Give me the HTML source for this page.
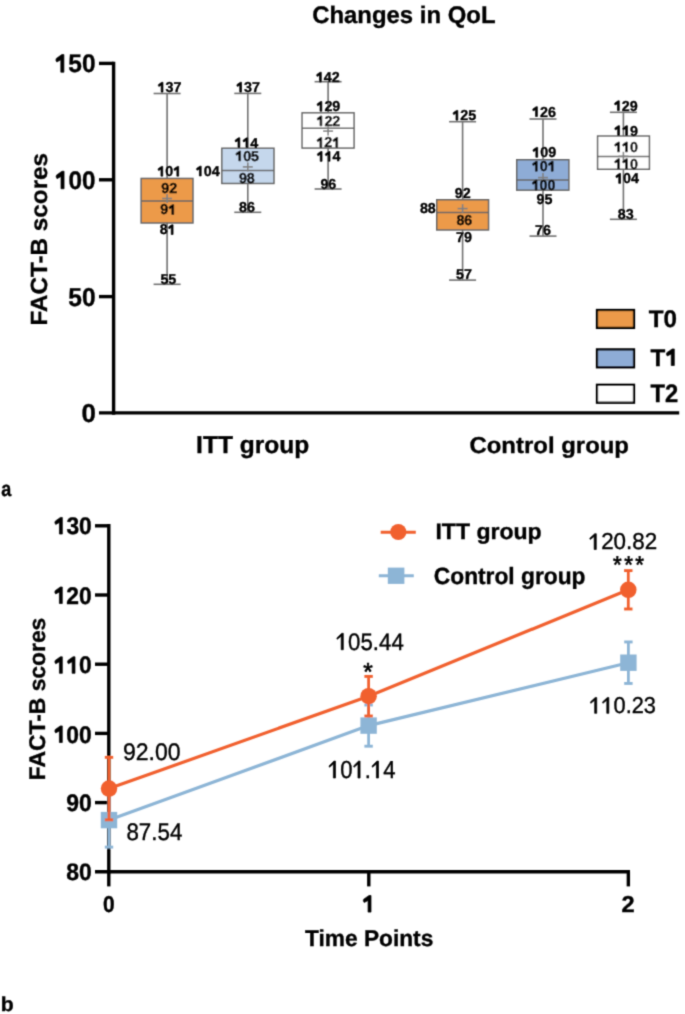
<!DOCTYPE html>
<html><head><meta charset="utf-8"><style>
html,body{margin:0;padding:0;background:#fff;}
body{width:685px;height:1014px;overflow:hidden;}
svg{display:block;font-family:"Liberation Sans",sans-serif;text-rendering:geometricPrecision;}
text{stroke:#000;stroke-width:0.35px;} path.one{stroke:#000;stroke-width:0.7px;vector-effect:non-scaling-stroke;}
</style></head><body>
<svg width="685" height="1014" viewBox="0 0 685 1014">
<rect width="685" height="1014" fill="#fff"/>
<defs><filter id="fb" x="0" y="0" width="685" height="1014" filterUnits="userSpaceOnUse"><feConvolveMatrix order="3" kernelMatrix="0.0277 0.111 0.0277 0.111 0.445 0.111 0.0277 0.111 0.0277" edgeMode="duplicate"/></filter></defs><g id="g" filter="url(#fb)">
<text transform="translate(312.166 22.625) scale(0.9963 0.9990)" font-size="24.00" font-weight="bold">Changes in QoL</text>
<line x1="113.60" y1="61.70" x2="113.60" y2="414.70" stroke="#000" stroke-width="3.40"/>
<line x1="99.00" y1="412.90" x2="679.20" y2="412.90" stroke="#000" stroke-width="3.40"/>
<line x1="99.00" y1="63.40" x2="113.60" y2="63.40" stroke="#000" stroke-width="3.40"/>
<line x1="99.00" y1="179.80" x2="113.60" y2="179.80" stroke="#000" stroke-width="3.40"/>
<line x1="99.00" y1="296.60" x2="113.60" y2="296.60" stroke="#000" stroke-width="3.40"/>
<g transform="translate(54.658 72.207) scale(0.9999 1.0457)"><text font-size="24.50" font-weight="bold"> 50</text><path class="one" d="M514 0L514 987L179 815L101 962L140 1099L600 1409L773 1409L773 0Z" transform="translate(0.000 0) scale(0.01196 -0.01196)"/></g>
<g transform="translate(54.908 188.781) scale(0.9906 1.0402)"><text font-size="24.50" font-weight="bold"> 00</text><path class="one" d="M514 0L514 987L179 815L101 962L140 1099L600 1409L773 1409L773 0Z" transform="translate(0.000 0) scale(0.01196 -0.01196)"/></g>
<text transform="translate(68.221 305.851) scale(1.0025 1.0588)" font-size="24.50" font-weight="bold">50</text>
<text transform="translate(81.616 422.245) scale(1.0569 1.0570)" font-size="24.50" font-weight="bold">0</text>
<text transform="translate(47.448 325.414) rotate(-90) scale(1.0102 0.9728)" font-size="24.00" font-weight="bold">FACT-B scores</text>
<text transform="translate(196.124 452.583) scale(1.0214 1.0164)" font-size="24.00" font-weight="bold">ITT group</text>
<text transform="translate(469.462 452.501) scale(0.9973 0.9559)" font-size="24.00" font-weight="bold">Control group</text>
<rect x="597.00" y="310.00" width="37.00" height="17.90" fill="#EC9A48" stroke="#000" stroke-width="2.30"/>
<rect x="597.00" y="349.40" width="37.00" height="17.90" fill="#8EACD6" stroke="#000" stroke-width="2.30"/>
<rect x="597.00" y="384.80" width="37.00" height="17.90" fill="#fff" stroke="#000" stroke-width="2.30"/>
<text transform="translate(648.799 326.922) scale(1.0084 1.0034)" font-size="24.00" font-weight="bold">T0</text>
<g transform="translate(650.430 365.512) scale(1.0064 1.0000)"><text font-size="24.00" font-weight="bold">T </text><path class="one" d="M514 0L514 987L179 815L101 962L140 1099L600 1409L773 1409L773 0Z" transform="translate(14.660 0) scale(0.01172 -0.01172)"/></g>
<text transform="translate(650.449 401.660) scale(0.9888 1.0538)" font-size="24.00" font-weight="bold">T2</text>
<text transform="translate(1.220 496.082) scale(0.9006 1.0492)" font-size="20.00" font-weight="bold">a</text>
<line x1="167.10" y1="93.50" x2="167.10" y2="284.30" stroke="#727272" stroke-width="1.60"/>
<line x1="153.60" y1="93.50" x2="180.60" y2="93.50" stroke="#727272" stroke-width="1.60"/>
<line x1="153.60" y1="284.30" x2="180.60" y2="284.30" stroke="#727272" stroke-width="1.60"/>
<rect x="141.15" y="178.45" width="51.80" height="44.50" fill="#EC9A48" stroke="#666666" stroke-width="1.50"/>
<line x1="141.15" y1="200.90" x2="192.95" y2="200.90" stroke="#666666" stroke-width="1.50"/>
<line x1="162.10" y1="198.50" x2="172.10" y2="198.50" stroke="#808080" stroke-width="1.60"/>
<line x1="167.10" y1="194.00" x2="167.10" y2="203.00" stroke="#808080" stroke-width="1.60"/>
<line x1="247.80" y1="93.40" x2="247.80" y2="212.30" stroke="#727272" stroke-width="1.60"/>
<line x1="234.30" y1="93.40" x2="261.30" y2="93.40" stroke="#727272" stroke-width="1.60"/>
<line x1="234.30" y1="212.30" x2="261.30" y2="212.30" stroke="#727272" stroke-width="1.60"/>
<rect x="221.85" y="148.25" width="52.10" height="35.20" fill="#C5D7EC" stroke="#666666" stroke-width="1.50"/>
<line x1="221.85" y1="170.40" x2="273.95" y2="170.40" stroke="#666666" stroke-width="1.50"/>
<line x1="242.80" y1="166.90" x2="252.80" y2="166.90" stroke="#808080" stroke-width="1.60"/>
<line x1="247.80" y1="162.40" x2="247.80" y2="171.40" stroke="#808080" stroke-width="1.60"/>
<line x1="328.10" y1="81.70" x2="328.10" y2="189.00" stroke="#727272" stroke-width="1.60"/>
<line x1="314.60" y1="81.70" x2="341.60" y2="81.70" stroke="#727272" stroke-width="1.60"/>
<line x1="314.60" y1="189.00" x2="341.60" y2="189.00" stroke="#727272" stroke-width="1.60"/>
<rect x="302.10" y="112.85" width="51.95" height="35.20" fill="#fff" stroke="#666666" stroke-width="1.50"/>
<line x1="302.10" y1="128.30" x2="354.05" y2="128.30" stroke="#666666" stroke-width="1.50"/>
<line x1="323.10" y1="131.10" x2="333.10" y2="131.10" stroke="#808080" stroke-width="1.60"/>
<line x1="328.10" y1="126.60" x2="328.10" y2="135.60" stroke="#808080" stroke-width="1.60"/>
<line x1="462.60" y1="121.70" x2="462.60" y2="280.10" stroke="#727272" stroke-width="1.60"/>
<line x1="449.10" y1="121.70" x2="476.10" y2="121.70" stroke="#727272" stroke-width="1.60"/>
<line x1="449.10" y1="280.10" x2="476.10" y2="280.10" stroke="#727272" stroke-width="1.60"/>
<rect x="436.75" y="199.75" width="51.80" height="30.20" fill="#EC9A48" stroke="#666666" stroke-width="1.50"/>
<line x1="436.75" y1="212.60" x2="488.55" y2="212.60" stroke="#666666" stroke-width="1.50"/>
<line x1="457.60" y1="208.60" x2="467.60" y2="208.60" stroke="#808080" stroke-width="1.60"/>
<line x1="462.60" y1="204.10" x2="462.60" y2="213.10" stroke="#808080" stroke-width="1.60"/>
<line x1="543.00" y1="119.00" x2="543.00" y2="236.10" stroke="#727272" stroke-width="1.60"/>
<line x1="529.50" y1="119.00" x2="556.50" y2="119.00" stroke="#727272" stroke-width="1.60"/>
<line x1="529.50" y1="236.10" x2="556.50" y2="236.10" stroke="#727272" stroke-width="1.60"/>
<rect x="516.75" y="159.75" width="52.10" height="30.40" fill="#8EACD6" stroke="#666666" stroke-width="1.50"/>
<line x1="516.75" y1="179.90" x2="568.85" y2="179.90" stroke="#666666" stroke-width="1.50"/>
<line x1="538.00" y1="177.60" x2="548.00" y2="177.60" stroke="#808080" stroke-width="1.60"/>
<line x1="543.00" y1="173.10" x2="543.00" y2="182.10" stroke="#808080" stroke-width="1.60"/>
<line x1="623.40" y1="112.30" x2="623.40" y2="219.30" stroke="#727272" stroke-width="1.60"/>
<line x1="609.90" y1="112.30" x2="636.90" y2="112.30" stroke="#727272" stroke-width="1.60"/>
<line x1="609.90" y1="219.30" x2="636.90" y2="219.30" stroke="#727272" stroke-width="1.60"/>
<rect x="597.60" y="136.05" width="51.80" height="33.20" fill="#fff" stroke="#666666" stroke-width="1.50"/>
<line x1="597.60" y1="156.60" x2="649.40" y2="156.60" stroke="#666666" stroke-width="1.50"/>
<line x1="618.40" y1="156.30" x2="628.40" y2="156.30" stroke="#808080" stroke-width="1.60"/>
<line x1="623.40" y1="151.80" x2="623.40" y2="160.80" stroke="#808080" stroke-width="1.60"/>
<g transform="translate(157.584 92.139) scale(1.0000 1.0000)"><text font-size="14.30" font-weight="bold"> 37</text><path class="one" d="M514 0L514 987L179 815L101 962L140 1099L600 1409L773 1409L773 0Z" transform="translate(0.000 0) scale(0.00698 -0.00698)"/></g>
<g transform="translate(157.369 176.260) scale(1.0000 1.0000)"><text font-size="14.30" font-weight="bold"> 0 </text><path class="one" d="M514 0L514 987L179 815L101 962L140 1099L600 1409L773 1409L773 0Z" transform="translate(0.000 0) scale(0.00698 -0.00698)"/><path class="one" d="M514 0L514 987L179 815L101 962L140 1099L600 1409L773 1409L773 0Z" transform="translate(15.906 0) scale(0.00698 -0.00698)"/></g>
<text transform="translate(161.235 192.660) scale(1.0000 1.0000)" font-size="14.30" font-weight="bold">92</text>
<g transform="translate(160.348 214.460) scale(1.0000 1.0000)"><text font-size="14.30" font-weight="bold">9 </text><path class="one" d="M514 0L514 987L179 815L101 962L140 1099L600 1409L773 1409L773 0Z" transform="translate(7.953 0) scale(0.00698 -0.00698)"/></g>
<g transform="translate(159.719 234.460) scale(1.0000 1.0000)"><text font-size="14.30" font-weight="bold">8 </text><path class="one" d="M514 0L514 987L179 815L101 962L140 1099L600 1409L773 1409L773 0Z" transform="translate(7.953 0) scale(0.00698 -0.00698)"/></g>
<text transform="translate(160.376 283.760) scale(1.0000 1.0000)" font-size="14.30" font-weight="bold">55</text>
<g transform="translate(236.134 92.139) scale(1.0000 1.0000)"><text font-size="14.30" font-weight="bold"> 37</text><path class="one" d="M514 0L514 987L179 815L101 962L140 1099L600 1409L773 1409L773 0Z" transform="translate(0.000 0) scale(0.00698 -0.00698)"/></g>
<g transform="translate(234.409 147.638) scale(1.0000 1.0000)"><text font-size="14.30" font-weight="bold">  4</text><path class="one" d="M514 0L514 987L179 815L101 962L140 1099L600 1409L773 1409L773 0Z" transform="translate(0.000 0) scale(0.00698 -0.00698)"/><path class="one" d="M514 0L514 987L179 815L101 962L140 1099L600 1409L773 1409L773 0Z" transform="translate(7.953 0) scale(0.00698 -0.00698)"/></g>
<g transform="translate(235.219 160.860) scale(1.0000 1.0000)"><text font-size="14.30" font-weight="bold"> 05</text><path class="one" d="M514 0L514 987L179 815L101 962L140 1099L600 1409L773 1409L773 0Z" transform="translate(0.000 0) scale(0.00698 -0.00698)"/></g>
<g transform="translate(195.809 175.960) scale(1.0000 1.0000)"><text font-size="14.30" font-weight="bold"> 04</text><path class="one" d="M514 0L514 987L179 815L101 962L140 1099L600 1409L773 1409L773 0Z" transform="translate(0.000 0) scale(0.00698 -0.00698)"/></g>
<text transform="translate(238.919 182.560) scale(1.0000 1.0000)" font-size="14.30" font-weight="bold">98</text>
<text transform="translate(238.978 211.860) scale(1.0000 1.0000)" font-size="14.30" font-weight="bold">86</text>
<g transform="translate(315.906 82.085) scale(1.0000 1.0000)"><text font-size="14.30" font-weight="bold"> 42</text><path class="one" d="M514 0L514 987L179 815L101 962L140 1099L600 1409L773 1409L773 0Z" transform="translate(0.000 0) scale(0.00698 -0.00698)"/></g>
<g transform="translate(316.435 111.360) scale(1.0000 1.0000)"><text font-size="14.30" font-weight="bold"> 29</text><path class="one" d="M514 0L514 987L179 815L101 962L140 1099L600 1409L773 1409L773 0Z" transform="translate(0.000 0) scale(0.00698 -0.00698)"/></g>
<g transform="translate(316.456 125.785) scale(1.0000 1.0000)"><text font-size="14.30" font-weight="bold"> 22</text><path class="one" d="M514 0L514 987L179 815L101 962L140 1099L600 1409L773 1409L773 0Z" transform="translate(0.000 0) scale(0.00698 -0.00698)"/></g>
<g transform="translate(316.369 147.285) scale(1.0000 1.0000)"><text font-size="14.30" font-weight="bold"> 2 </text><path class="one" d="M514 0L514 987L179 815L101 962L140 1099L600 1409L773 1409L773 0Z" transform="translate(0.000 0) scale(0.00698 -0.00698)"/><path class="one" d="M514 0L514 987L179 815L101 962L140 1099L600 1409L773 1409L773 0Z" transform="translate(15.906 0) scale(0.00698 -0.00698)"/></g>
<g transform="translate(316.659 161.338) scale(1.0000 1.0000)"><text font-size="14.30" font-weight="bold">  4</text><path class="one" d="M514 0L514 987L179 815L101 962L140 1099L600 1409L773 1409L773 0Z" transform="translate(0.000 0) scale(0.00698 -0.00698)"/><path class="one" d="M514 0L514 987L179 815L101 962L140 1099L600 1409L773 1409L773 0Z" transform="translate(7.953 0) scale(0.00698 -0.00698)"/></g>
<text transform="translate(320.407 188.860) scale(1.0000 1.0000)" font-size="14.30" font-weight="bold">96</text>
<g transform="translate(452.419 120.260) scale(1.0000 1.0000)"><text font-size="14.30" font-weight="bold"> 25</text><path class="one" d="M514 0L514 987L179 815L101 962L140 1099L600 1409L773 1409L773 0Z" transform="translate(0.000 0) scale(0.00698 -0.00698)"/></g>
<text transform="translate(454.785 197.560) scale(1.0000 1.0000)" font-size="14.30" font-weight="bold">92</text>
<text transform="translate(419.890 212.960) scale(1.0000 1.0000)" font-size="14.30" font-weight="bold">88</text>
<text transform="translate(456.378 224.560) scale(1.0000 1.0000)" font-size="14.30" font-weight="bold">86</text>
<text transform="translate(456.005 241.860) scale(1.0000 1.0000)" font-size="14.30" font-weight="bold">79</text>
<text transform="translate(455.941 278.660) scale(1.0000 1.0000)" font-size="14.30" font-weight="bold">57</text>
<g transform="translate(531.979 116.560) scale(1.0000 1.0000)"><text font-size="14.30" font-weight="bold"> 26</text><path class="one" d="M514 0L514 987L179 815L101 962L140 1099L600 1409L773 1409L773 0Z" transform="translate(0.000 0) scale(0.00698 -0.00698)"/></g>
<g transform="translate(532.285 157.260) scale(1.0000 1.0000)"><text font-size="14.30" font-weight="bold"> 09</text><path class="one" d="M514 0L514 987L179 815L101 962L140 1099L600 1409L773 1409L773 0Z" transform="translate(0.000 0) scale(0.00698 -0.00698)"/></g>
<g transform="translate(531.819 171.160) scale(1.0000 1.0000)"><text font-size="14.30" font-weight="bold"> 0 </text><path class="one" d="M514 0L514 987L179 815L101 962L140 1099L600 1409L773 1409L773 0Z" transform="translate(0.000 0) scale(0.00698 -0.00698)"/><path class="one" d="M514 0L514 987L179 815L101 962L140 1099L600 1409L773 1409L773 0Z" transform="translate(15.906 0) scale(0.00698 -0.00698)"/></g>
<g transform="translate(531.613 189.960) scale(1.0000 1.0000)"><text font-size="14.30" font-weight="bold"> 00</text><path class="one" d="M514 0L514 987L179 815L101 962L140 1099L600 1409L773 1409L773 0Z" transform="translate(0.000 0) scale(0.00698 -0.00698)"/></g>
<text transform="translate(536.498 203.960) scale(1.0000 1.0000)" font-size="14.30" font-weight="bold">95</text>
<text transform="translate(534.948 235.260) scale(1.0000 1.0000)" font-size="14.30" font-weight="bold">76</text>
<g transform="translate(613.885 110.660) scale(1.0000 1.0000)"><text font-size="14.30" font-weight="bold"> 29</text><path class="one" d="M514 0L514 987L179 815L101 962L140 1099L600 1409L773 1409L773 0Z" transform="translate(0.000 0) scale(0.00698 -0.00698)"/></g>
<g transform="translate(614.085 135.560) scale(1.0000 1.0000)"><text font-size="14.30" font-weight="bold">  9</text><path class="one" d="M514 0L514 987L179 815L101 962L140 1099L600 1409L773 1409L773 0Z" transform="translate(0.000 0) scale(0.00698 -0.00698)"/><path class="one" d="M514 0L514 987L179 815L101 962L140 1099L600 1409L773 1409L773 0Z" transform="translate(7.953 0) scale(0.00698 -0.00698)"/></g>
<g transform="translate(614.013 151.860) scale(1.0000 1.0000)"><text font-size="14.30" font-weight="bold">  0</text><path class="one" d="M514 0L514 987L179 815L101 962L140 1099L600 1409L773 1409L773 0Z" transform="translate(0.000 0) scale(0.00698 -0.00698)"/><path class="one" d="M514 0L514 987L179 815L101 962L140 1099L600 1409L773 1409L773 0Z" transform="translate(7.953 0) scale(0.00698 -0.00698)"/></g>
<g transform="translate(614.013 168.660) scale(1.0000 1.0000)"><text font-size="14.30" font-weight="bold">  0</text><path class="one" d="M514 0L514 987L179 815L101 962L140 1099L600 1409L773 1409L773 0Z" transform="translate(0.000 0) scale(0.00698 -0.00698)"/><path class="one" d="M514 0L514 987L179 815L101 962L140 1099L600 1409L773 1409L773 0Z" transform="translate(7.953 0) scale(0.00698 -0.00698)"/></g>
<g transform="translate(615.159 183.360) scale(1.0000 1.0000)"><text font-size="14.30" font-weight="bold"> 04</text><path class="one" d="M514 0L514 987L179 815L101 962L140 1099L600 1409L773 1409L773 0Z" transform="translate(0.000 0) scale(0.00698 -0.00698)"/></g>
<text transform="translate(617.728 218.839) scale(1.0000 1.0000)" font-size="14.30" font-weight="bold">83</text>
<line x1="108.80" y1="524.10" x2="108.80" y2="873.50" stroke="#000" stroke-width="3.40"/>
<line x1="95.00" y1="871.80" x2="630.00" y2="871.80" stroke="#000" stroke-width="3.40"/>
<line x1="95.00" y1="525.80" x2="108.80" y2="525.80" stroke="#000" stroke-width="3.40"/>
<line x1="95.00" y1="595.00" x2="108.80" y2="595.00" stroke="#000" stroke-width="3.40"/>
<line x1="95.00" y1="664.20" x2="108.80" y2="664.20" stroke="#000" stroke-width="3.40"/>
<line x1="95.00" y1="733.40" x2="108.80" y2="733.40" stroke="#000" stroke-width="3.40"/>
<line x1="95.00" y1="802.60" x2="108.80" y2="802.60" stroke="#000" stroke-width="3.40"/>
<line x1="108.80" y1="871.80" x2="108.80" y2="886.40" stroke="#000" stroke-width="3.40"/>
<line x1="368.80" y1="871.80" x2="368.80" y2="886.40" stroke="#000" stroke-width="3.40"/>
<line x1="628.35" y1="871.80" x2="628.35" y2="886.40" stroke="#000" stroke-width="3.40"/>
<g transform="translate(53.716 534.062) scale(1.0284 1.0856)"><text font-size="22.20" font-weight="bold"> 30</text><path class="one" d="M514 0L514 987L179 815L101 962L140 1099L600 1409L773 1409L773 0Z" transform="translate(0.000 0) scale(0.01084 -0.01084)"/></g>
<g transform="translate(53.666 603.520) scale(1.0293 1.0810)"><text font-size="22.20" font-weight="bold"> 20</text><path class="one" d="M514 0L514 987L179 815L101 962L140 1099L600 1409L773 1409L773 0Z" transform="translate(0.000 0) scale(0.01084 -0.01084)"/></g>
<g transform="translate(53.695 673.323) scale(1.0286 1.0810)"><text font-size="22.20" font-weight="bold">  0</text><path class="one" d="M514 0L514 987L179 815L101 962L140 1099L600 1409L773 1409L773 0Z" transform="translate(0.000 0) scale(0.01084 -0.01084)"/><path class="one" d="M514 0L514 987L179 815L101 962L140 1099L600 1409L773 1409L773 0Z" transform="translate(12.347 0) scale(0.01084 -0.01084)"/></g>
<g transform="translate(53.673 742.511) scale(1.0280 1.0852)"><text font-size="22.20" font-weight="bold"> 00</text><path class="one" d="M514 0L514 987L179 815L101 962L140 1099L600 1409L773 1409L773 0Z" transform="translate(0.000 0) scale(0.01084 -0.01084)"/></g>
<text transform="translate(66.191 811.239) scale(1.0341 1.0759)" font-size="22.20" font-weight="bold">90</text>
<text transform="translate(66.191 880.233) scale(1.0341 1.0728)" font-size="22.20" font-weight="bold">80</text>
<text transform="translate(102.941 911.594) scale(0.9433 1.0294)" font-size="22.20" font-weight="bold">0</text>
<g transform="translate(362.140 912.123) scale(1.0594 1.0878)"><text font-size="22.20" font-weight="bold"> </text><path class="one" d="M514 0L514 987L179 815L101 962L140 1099L600 1409L773 1409L773 0Z" transform="translate(0.000 0) scale(0.01084 -0.01084)"/></g>
<text transform="translate(621.434 912.016) scale(1.0663 1.0367)" font-size="22.20" font-weight="bold">2</text>
<text transform="translate(305.006 946.467) scale(1.0186 1.0209)" font-size="22.30" font-weight="bold">Time Points</text>
<text transform="translate(44.591 780.168) rotate(-90) scale(1.0152 1.0079)" font-size="22.50" font-weight="bold">FACT-B scores</text>
<text transform="translate(0.747 1010.795) scale(1.0593 1.0008)" font-size="20.00" font-weight="bold">b</text>
<polyline points="109.00,820.10 368.60,725.60 628.40,662.70" fill="none" stroke="#8DB5D6" stroke-width="3.2"/>
<line x1="109.00" y1="793.10" x2="109.00" y2="847.10" stroke="#8DB5D6" stroke-width="2.80"/>
<line x1="104.80" y1="793.10" x2="113.20" y2="793.10" stroke="#8DB5D6" stroke-width="2.90"/>
<line x1="104.80" y1="847.10" x2="113.20" y2="847.10" stroke="#8DB5D6" stroke-width="2.90"/>
<rect x="100.80" y="811.90" width="16.4" height="16.4" fill="#8DB5D6"/>
<line x1="368.60" y1="705.00" x2="368.60" y2="746.20" stroke="#8DB5D6" stroke-width="2.80"/>
<line x1="364.40" y1="705.00" x2="372.80" y2="705.00" stroke="#8DB5D6" stroke-width="2.90"/>
<line x1="364.40" y1="746.20" x2="372.80" y2="746.20" stroke="#8DB5D6" stroke-width="2.90"/>
<rect x="360.40" y="717.40" width="16.4" height="16.4" fill="#8DB5D6"/>
<line x1="628.40" y1="641.95" x2="628.40" y2="683.45" stroke="#8DB5D6" stroke-width="2.80"/>
<line x1="624.20" y1="641.95" x2="632.60" y2="641.95" stroke="#8DB5D6" stroke-width="2.90"/>
<line x1="624.20" y1="683.45" x2="632.60" y2="683.45" stroke="#8DB5D6" stroke-width="2.90"/>
<rect x="620.20" y="654.50" width="16.4" height="16.4" fill="#8DB5D6"/>
<polyline points="109.00,788.60 368.60,696.20 628.30,589.80" fill="none" stroke="#F1602F" stroke-width="3.2"/>
<line x1="109.00" y1="757.35" x2="109.00" y2="819.85" stroke="#F1602F" stroke-width="2.80"/>
<line x1="104.80" y1="757.35" x2="113.20" y2="757.35" stroke="#F1602F" stroke-width="2.90"/>
<line x1="104.80" y1="819.85" x2="113.20" y2="819.85" stroke="#F1602F" stroke-width="2.90"/>
<circle cx="109.00" cy="788.60" r="8.25" fill="#F1602F"/>
<line x1="368.60" y1="676.40" x2="368.60" y2="716.00" stroke="#F1602F" stroke-width="2.80"/>
<line x1="364.40" y1="676.40" x2="372.80" y2="676.40" stroke="#F1602F" stroke-width="2.90"/>
<line x1="364.40" y1="716.00" x2="372.80" y2="716.00" stroke="#F1602F" stroke-width="2.90"/>
<circle cx="368.60" cy="696.20" r="8.25" fill="#F1602F"/>
<line x1="628.30" y1="570.60" x2="628.30" y2="609.00" stroke="#F1602F" stroke-width="2.80"/>
<line x1="624.10" y1="570.60" x2="632.50" y2="570.60" stroke="#F1602F" stroke-width="2.90"/>
<line x1="624.10" y1="609.00" x2="632.50" y2="609.00" stroke="#F1602F" stroke-width="2.90"/>
<circle cx="628.30" cy="589.80" r="8.25" fill="#F1602F"/>
<line x1="380.70" y1="532.20" x2="415.80" y2="532.20" stroke="#F1602F" stroke-width="3.00"/>
<circle cx="398.3" cy="532" r="8.1" fill="#F1602F"/>
<line x1="378.80" y1="575.70" x2="413.80" y2="575.70" stroke="#8DB5D6" stroke-width="3.00"/>
<rect x="387.8" y="567.6" width="16.6" height="16.3" fill="#8DB5D6"/>
<text transform="translate(435.440 539.425) scale(1.0293 0.9991)" font-size="22.40" font-weight="bold">ITT group</text>
<text transform="translate(433.796 583.530) scale(1.0163 1.0474)" font-size="22.40" font-weight="bold">Control group</text>
<text transform="translate(122.949 759.975) scale(1.0475 1.0930)" font-size="22.00" font-weight="normal">92.00</text>
<text transform="translate(126.406 840.155) scale(1.0156 1.0869)" font-size="22.00" font-weight="normal">87.54</text>
<g transform="translate(335.753 649.740) scale(1.0111 1.0851)"><text font-size="22.00" font-weight="normal"> 05.44</text><path class="one" d="M502 0L502 1163L140 894L96 1001L555 1409L696 1409L696 0Z" transform="translate(0.000 0) scale(0.01074 -0.01074)"/></g>
<g transform="translate(327.974 778.004) scale(1.0046 1.1160)"><text font-size="22.00" font-weight="normal"> 0 . 4</text><path class="one" d="M502 0L502 1163L140 894L96 1001L555 1409L696 1409L696 0Z" transform="translate(0.000 0) scale(0.01074 -0.01074)"/><path class="one" d="M502 0L502 1163L140 894L96 1001L555 1409L696 1409L696 0Z" transform="translate(24.471 0) scale(0.01074 -0.01074)"/><path class="one" d="M502 0L502 1163L140 894L96 1001L555 1409L696 1409L696 0Z" transform="translate(42.818 0) scale(0.01074 -0.01074)"/></g>
<g transform="translate(588.692 549.493) scale(1.0167 1.0427)"><text font-size="22.00" font-weight="normal"> 20.82</text><path class="one" d="M502 0L502 1163L140 894L96 1001L555 1409L696 1409L696 0Z" transform="translate(0.000 0) scale(0.01074 -0.01074)"/></g>
<g transform="translate(589.328 713.313) scale(0.9902 1.0422)"><text font-size="22.00" font-weight="normal">  0.23</text><path class="one" d="M502 0L502 1163L140 894L96 1001L555 1409L696 1409L696 0Z" transform="translate(0.000 0) scale(0.01074 -0.01074)"/><path class="one" d="M502 0L502 1163L140 894L96 1001L555 1409L696 1409L696 0Z" transform="translate(12.235 0) scale(0.01074 -0.01074)"/></g>
<text transform="translate(363.165 679.699) scale(1.1083 1.1175)" font-size="22.00" font-weight="normal" style="stroke-width:0.6px">*</text>
<text transform="translate(612.994 573.347) scale(1.0158 1.1018)" font-size="22.00" font-weight="normal" letter-spacing="2.45" style="stroke-width:0.6px">***</text>
</g>
</svg>
</body></html>
